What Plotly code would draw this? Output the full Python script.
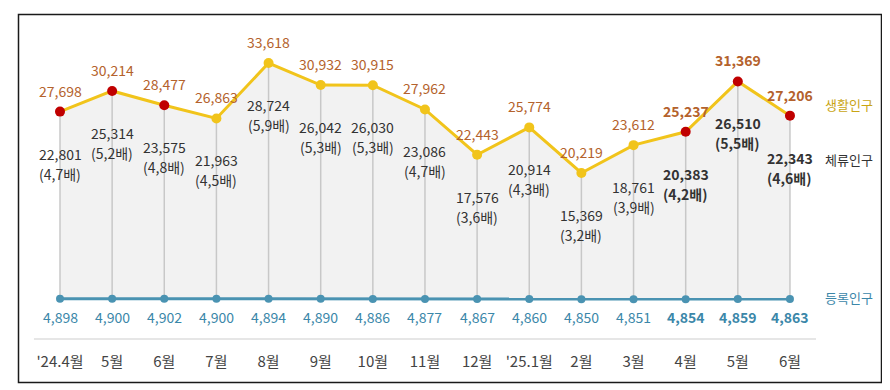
import plotly.graph_objects as go

months = ["'24.4월", "5월", "6월", "7월", "8월", "9월", "10월", "11월", "12월",
          "'25.1월", "2월", "3월", "4월", "5월", "6월"]
living = [27698, 30214, 28477, 26863, 33618, 30932, 30915, 27962, 22443,
          25774, 20219, 23612, 25237, 31369, 27206]
stay = [22801, 25314, 23575, 21963, 28724, 26042, 26030, 23086, 17576,
        20914, 15369, 18761, 20383, 26510, 22343]
ratio = ["4,7", "5,2", "4,8", "4,5", "5,9", "5,3", "5,3", "4,7", "3,6",
         "4,3", "3,2", "3,9", "4,2", "5,5", "4,6"]
registered = [4898, 4900, 4902, 4900, 4894, 4890, 4886, 4877, 4867,
              4860, 4850, 4851, 4854, 4859, 4863]
highlight = [True, True, True, False, False, False, False, False, False,
             False, False, False, True, True, True]
bold = [False] * 12 + [True] * 3
series_names = ["생활인구", "체류인구", "등록인구"]

FONT = "Noto Sans CJK KR"
YELLOW = "#f1c41b"
RED = "#c00000"
ORANGE = "#b4622c"
DARK = "#333333"
BLUE_LINE = "#4a93b2"
BLUE_TEXT = "#3b87a9"
GOLD_TEXT = "#c9a514"

OFF = 8  # page body margin
W, H = 890 - OFF, 390 - OFF
H_PLOT = 341 - OFF  # pixel row of plot bottom (figure coords)

xs = list(range(len(months)))
fig = go.Figure()

fig.add_trace(go.Scatter(x=xs, y=registered, mode="lines", line=dict(width=0),
                         hoverinfo="skip", showlegend=False))
fig.add_trace(go.Scatter(x=xs, y=living, mode="lines", line=dict(width=0),
                         fill="tonexty", fillcolor="#f2f2f2",
                         hoverinfo="skip", showlegend=False))

vx, vy = [], []
for i in xs:
    vx += [i, i, None]
    vy += [living[i], registered[i], None]
fig.add_trace(go.Scatter(x=vx, y=vy, mode="lines",
                         line=dict(color="#c8c8c8", width=1.5),
                         hoverinfo="skip", showlegend=False))

fig.add_trace(go.Scatter(x=xs, y=registered, mode="lines+markers",
                         line=dict(color=BLUE_LINE, width=3),
                         marker=dict(color=BLUE_LINE, size=8),
                         name=series_names[2], showlegend=False))

fig.add_trace(go.Scatter(x=xs, y=living, mode="lines+markers",
                         line=dict(color=YELLOW, width=3),
                         marker=dict(color=[RED if h else YELLOW for h in highlight], size=10),
                         name=series_names[0], showlegend=False))

ann = []
for i in xs:
    b = bold[i]
    ann.append(dict(x=i, y=living[i], xref="x", yref="y", showarrow=False,
                    text=(f"<b>{living[i]:,}</b>" if b else f"{living[i]:,}"),
                    yshift=21, font=dict(family=FONT, size=14, color=ORANGE)))
    ann.append(dict(x=i, y=living[i], xref="x", yref="y", showarrow=False,
                    text=(f"<b>{stay[i]:,}</b>" if b else f"{stay[i]:,}"),
                    yshift=-42, font=dict(family=FONT, size=14, color=DARK)))
    rt = f"({ratio[i]}배)"
    ann.append(dict(x=i, y=living[i], xref="x", yref="y", showarrow=False,
                    text=(f"<b>{rt}</b>" if b else rt),
                    yshift=-62, font=dict(family=FONT, size=14, color=DARK)))
    ann.append(dict(x=i, y=registered[i], xref="x", yref="y", showarrow=False,
                    text=(f"<b>{registered[i]:,}</b>" if b else f"{registered[i]:,}"),
                    yshift=-18, font=dict(family=FONT, size=14, color=BLUE_TEXT)))


def px_x(pix):
    return (pix - OFF) / W


def px_y(pix):
    return (H_PLOT - (pix - OFF)) / H_PLOT


for name, ypix, col in [(series_names[0], 104, GOLD_TEXT),
                        (series_names[1], 159, DARK),
                        (series_names[2], 297, BLUE_TEXT)]:
    ann.append(dict(x=px_x(849), y=px_y(ypix), xref="paper", yref="paper",
                    xanchor="center", yanchor="middle",
                    showarrow=False, text=name,
                    font=dict(family=FONT, size=13, color=col)))

shapes = [
    dict(type="line", xref="x", yref="y", x0=-0.5, x1=14.5, y0=0, y1=0,
         line=dict(color="#e6e6e6", width=2), layer="below"),
    dict(type="rect", xref="paper", yref="paper",
         x0=px_x(18.5), x1=px_x(881.5), y0=px_y(382.5), y1=px_y(14.5),
         line=dict(color="#1a1a1a", width=1.5)),
]

SP = 52.14
fig.update_layout(
    width=W, height=H,
    margin=dict(l=0, r=0, t=0, b=H - H_PLOT),
    paper_bgcolor="white", plot_bgcolor="white",
    annotations=ann, shapes=shapes,
    showlegend=False,
    xaxis=dict(range=[-(60 - OFF) / SP, (W - (60 - OFF)) / SP], tickmode="array",
               tickvals=xs, ticktext=months, showgrid=False, zeroline=False,
               showline=False, ticks="", ticklabelstandoff=10,
               tickfont=dict(family=FONT, size=15, color="#444444"),
               fixedrange=True),
    yaxis=dict(range=[-2 / 0.008210, (339 - OFF) / 0.008210], visible=False,
               fixedrange=True),
)

fig.write_html("out.html", config={"displayModeBar": False})
